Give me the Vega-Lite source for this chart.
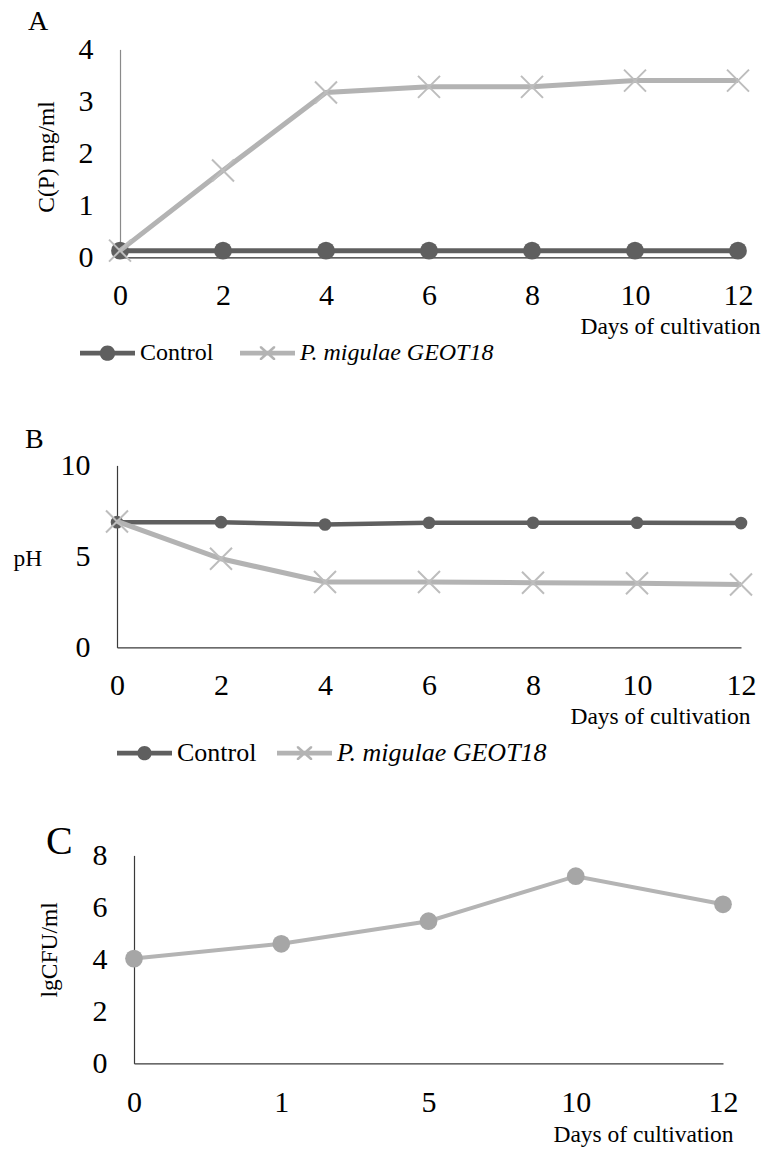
{
  "$schema": "https://vega.github.io/schema/vega-lite/v6.json",
  "background": "white",
  "padding": {"left": 13, "top": 8.4, "right": 2, "bottom": 2},
  "bounds": "flush",
  "spacing": 208,
  "resolve": {"scale": {"color": "independent", "shape": "independent"}, "legend": {"color": "independent", "shape": "independent"}},
  "config": {
    "font": "Liberation Serif",
    "view": {"stroke": null},
    "axis": {"grid": false, "ticks": false, "labelFont": "Liberation Serif", "titleFont": "Liberation Serif", "labelColor": "black", "titleColor": "black", "titleFontWeight": "normal", "labelFontSize": 30, "titleFontSize": 23.5, "domainColor": "#3a3a3a", "domainWidth": 1.2, "labelFlush": false, "labelOverlap": false},
    "legend": {"labelFont": "Liberation Serif"},
    "title": {"font": "Liberation Serif", "fontWeight": "normal", "color": "black", "anchor": "start", "frame": "group", "baseline": "alphabetic"}
  },
  "vconcat": [
    {
      "width": 621,
      "height": 208,
      "title": {"text": "A", "fontSize": 28, "dx": -89, "offset": -2},
      "data": {"values": [
        {"series": "Control", "day": 0, "value": 0.13},
        {"series": "Control", "day": 2, "value": 0.13},
        {"series": "Control", "day": 4, "value": 0.13},
        {"series": "Control", "day": 6, "value": 0.13},
        {"series": "Control", "day": 8, "value": 0.13},
        {"series": "Control", "day": 10, "value": 0.13},
        {"series": "Control", "day": 12, "value": 0.13},
        {"series": "P. migulae GEOT18", "day": 0, "value": 0.13},
        {"series": "P. migulae GEOT18", "day": 2, "value": 1.67},
        {"series": "P. migulae GEOT18", "day": 4, "value": 3.17},
        {"series": "P. migulae GEOT18", "day": 6, "value": 3.28},
        {"series": "P. migulae GEOT18", "day": 8, "value": 3.28},
        {"series": "P. migulae GEOT18", "day": 10, "value": 3.4},
        {"series": "P. migulae GEOT18", "day": 12, "value": 3.4}
      ]},
      "encoding": {
        "x": {"field": "day", "type": "quantitative", "scale": {"domain": [0, 12], "range": [3, 621], "nice": false, "zero": false},
          "axis": {"values": [0, 2, 4, 6, 8, 10, 12], "labelPadding": 38, "labelBaseline": "middle", "title": "Days of cultivation", "titleX": 643, "titleY": 69, "titleAlign": "right", "titleAnchor": "end", "titleBaseline": "middle", "domainColor": "#2a2a2a"}},
        "y": {"field": "value", "type": "quantitative", "scale": {"domain": [0, 4], "nice": false},
          "axis": {"values": [0, 1, 2, 3, 4], "offset": -3, "labelPadding": 27, "title": "C(P) mg/ml", "titleX": -66.5, "titleY": 107, "titleBaseline": "alphabetic", "domainColor": "#8a8a8a"}}
      },
      "layer": [
        {"transform": [{"filter": "datum.series === 'Control'"}], "mark": {"type": "line", "color": "#5f5f5f", "strokeWidth": 5}},
        {"transform": [{"filter": "datum.series === 'Control'"}], "mark": {"type": "point", "shape": "circle", "filled": true, "color": "#5f5f5f", "size": 314, "opacity": 1}},
        {"transform": [{"filter": "datum.series !== 'Control'"}], "mark": {"type": "line", "color": "#b3b3b3", "strokeWidth": 5}},
        {"transform": [{"filter": "datum.series !== 'Control'"}], "mark": {"type": "point", "shape": "M-1,-1L1,1M-1,1L1,-1", "filled": false, "color": "#bdbdbd", "strokeWidth": 2, "size": 484, "opacity": 1}},
        {
          "transform": [{"filter": "false"}],
          "mark": {"type": "point", "filled": true, "opacity": 1},
          "encoding": {
            "color": {"field": "series", "type": "nominal", "scale": {"domain": ["Control", "P. migulae GEOT18"], "range": ["#5f5f5f", "#b3b3b3"]},
              "legend": {"orient": "none", "legendX": -37, "legendY": 276, "direction": "horizontal", "title": null, "symbolSize": 3025, "symbolStrokeWidth": 0, "symbolOpacity": 1, "labelFontSize": 24, "labelFont": "Liberation Serif", "labelColor": "black", "labelOffset": 5, "columnPadding": 26, "padding": 0, "labelLimit": 400, "labelFontStyle": {"expr": "datum.label === 'Control' ? 'normal' : 'italic'"}}},
            "shape": {"field": "series", "type": "nominal", "scale": {"domain": ["Control", "P. migulae GEOT18"], "range": [
              "M-1,-0.09L1,-0.09L1,0.09L-1,0.09Z M0,-0.28C0.155,-0.28 0.28,-0.155 0.28,0C0.28,0.155 0.155,0.28 0,0.28C-0.155,0.28 -0.28,0.155 -0.28,0C-0.28,-0.155 -0.155,-0.28 0,-0.28Z",
              "M-1,-0.09L1,-0.09L1,0.09L-1,0.09Z M-0.28,-0.25L-0.21,-0.25L0.28,0.19L0.28,0.25L0.21,0.25L-0.28,-0.19Z M0.21,-0.25L0.28,-0.25L0.28,-0.19L-0.21,0.25L-0.28,0.25L-0.28,0.19Z"
            ]}}
          }
        }
      ]
    },
    {
      "width": 624,
      "height": 182,
      "title": {"text": "B", "fontSize": 28, "dx": -92, "offset": -4},
      "data": {"values": [
        {"series": "Control", "day": 0, "value": 6.88},
        {"series": "Control", "day": 2, "value": 6.88},
        {"series": "Control", "day": 4, "value": 6.75},
        {"series": "Control", "day": 6, "value": 6.85},
        {"series": "Control", "day": 8, "value": 6.85},
        {"series": "Control", "day": 10, "value": 6.85},
        {"series": "Control", "day": 12, "value": 6.83},
        {"series": "P. migulae GEOT18", "day": 0, "value": 6.92},
        {"series": "P. migulae GEOT18", "day": 2, "value": 4.87},
        {"series": "P. migulae GEOT18", "day": 4, "value": 3.59},
        {"series": "P. migulae GEOT18", "day": 6, "value": 3.59},
        {"series": "P. migulae GEOT18", "day": 8, "value": 3.55},
        {"series": "P. migulae GEOT18", "day": 10, "value": 3.52},
        {"series": "P. migulae GEOT18", "day": 12, "value": 3.46}
      ]},
      "encoding": {
        "x": {"field": "day", "type": "quantitative", "scale": {"domain": [0, 12], "nice": false, "zero": false},
          "axis": {"values": [0, 2, 4, 6, 8, 10, 12], "labelPadding": 38, "labelBaseline": "middle", "title": "Days of cultivation", "titleX": 633, "titleY": 69, "titleAlign": "right", "titleAnchor": "end", "titleBaseline": "middle"}},
        "y": {"field": "value", "type": "quantitative", "scale": {"domain": [0, 10], "nice": false},
          "axis": {"values": [0, 5, 10], "labelPadding": 27, "title": "pH", "titleAngle": 0, "titleX": -104, "titleY": 93, "titleAlign": "left", "titleBaseline": "middle"}}
      },
      "layer": [
        {"transform": [{"filter": "datum.series === 'Control'"}], "mark": {"type": "line", "color": "#5f5f5f", "strokeWidth": 4.5}},
        {"transform": [{"filter": "datum.series === 'Control'"}], "mark": {"type": "point", "shape": "circle", "filled": true, "color": "#5f5f5f", "size": 160, "opacity": 1}},
        {"transform": [{"filter": "datum.series !== 'Control'"}], "mark": {"type": "line", "color": "#b3b3b3", "strokeWidth": 5}},
        {"transform": [{"filter": "datum.series !== 'Control'"}], "mark": {"type": "point", "shape": "M-1,-1L1,1M-1,1L1,-1", "filled": false, "color": "#bdbdbd", "strokeWidth": 2, "size": 484, "opacity": 1}},
        {
          "transform": [{"filter": "false"}],
          "mark": {"type": "point", "filled": true, "opacity": 1},
          "encoding": {
            "color": {"field": "series", "type": "nominal", "scale": {"domain": ["Control", "P. migulae GEOT18"], "range": ["#5f5f5f", "#b3b3b3"]},
              "legend": {"orient": "none", "legendX": 0, "legendY": 260, "direction": "horizontal", "title": null, "symbolSize": 3025, "symbolStrokeWidth": 0, "symbolOpacity": 1, "labelFontSize": 26, "labelFont": "Liberation Serif", "labelColor": "black", "labelOffset": 5, "columnPadding": 20, "padding": 0, "labelLimit": 400, "labelFontStyle": {"expr": "datum.label === 'Control' ? 'normal' : 'italic'"}}},
            "shape": {"field": "series", "type": "nominal", "scale": {"domain": ["Control", "P. migulae GEOT18"], "range": [
              "M-1,-0.09L1,-0.09L1,0.09L-1,0.09Z M0,-0.26C0.144,-0.26 0.26,-0.144 0.26,0C0.26,0.144 0.144,0.26 0,0.26C-0.144,0.26 -0.26,0.144 -0.26,0C-0.26,-0.144 -0.144,-0.26 0,-0.26Z",
              "M-1,-0.09L1,-0.09L1,0.09L-1,0.09Z M-0.28,-0.25L-0.21,-0.25L0.28,0.19L0.28,0.25L0.21,0.25L-0.28,-0.19Z M0.21,-0.25L0.28,-0.25L0.28,-0.19L-0.21,0.25L-0.28,0.25L-0.28,0.19Z"
            ]}}
          }
        }
      ]
    },
    {
      "width": 606,
      "height": 208,
      "title": {"text": "C", "fontSize": 40, "dx": -71, "offset": -22},
      "data": {"values": [
        {"day": 0, "value": 4.03},
        {"day": 1, "value": 4.6},
        {"day": 5, "value": 5.47},
        {"day": 10, "value": 7.2},
        {"day": 12, "value": 6.12}
      ]},
      "encoding": {
        "x": {"field": "day", "type": "ordinal", "scale": {"type": "point", "padding": 0, "range": [17, 606]},
          "axis": {"labelAngle": 0, "labelPadding": 39, "labelBaseline": "middle", "title": "Days of cultivation", "titleX": 616, "titleY": 71, "titleAlign": "right", "titleAnchor": "end", "titleBaseline": "middle"}},
        "y": {"field": "value", "type": "quantitative", "scale": {"domain": [0, 8], "nice": false},
          "axis": {"values": [0, 2, 4, 6, 8], "offset": -17, "labelPadding": 27, "title": "lgCFU/ml", "titleX": -78, "titleY": 94, "titleBaseline": "alphabetic"}}
      },
      "layer": [
        {"mark": {"type": "line", "color": "#b4b4b4", "strokeWidth": 4}},
        {"mark": {"type": "point", "shape": "circle", "filled": true, "color": "#a6a6a6", "size": 314, "opacity": 1}}
      ]
    }
  ]
}
